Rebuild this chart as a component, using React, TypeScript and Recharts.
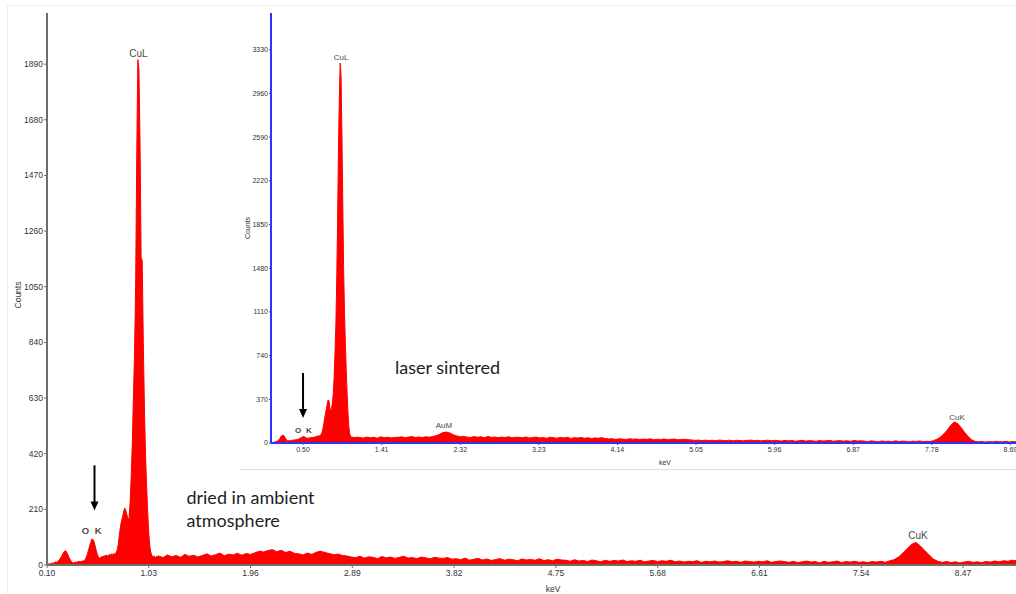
import React from 'react';
import { AreaChart, Area, XAxis, YAxis, ReferenceDot, ReferenceLine, Label } from 'recharts';

// dried in ambient atmosphere: fine bins up to 1.10 keV, coarser bins after
const mainLowStart = 0.1;
const mainLowStep = 0.01;
const mainLowCounts = [
  2, 3, 5, 4, 6, 8, 7, 9, 12, 10,
  14, 18, 24, 30, 38, 46, 52, 54, 48, 40,
  30, 22, 14, 10, 8, 9, 11, 10, 12, 14,
  13, 12, 15, 14, 17, 22, 30, 42, 58, 72,
  86, 98, 96, 88, 72, 55, 40, 30, 26, 28,
  32, 30, 35, 33, 38, 34, 36, 40, 37, 42,
  38, 44, 40, 46, 55, 75, 110, 140, 165, 180,
  200, 215, 205, 190, 172, 178, 240, 340, 470, 640,
  800, 1060, 1540, 1907, 1870, 1600, 1160, 1150, 840, 600,
  420, 300, 200, 120, 70, 45, 36, 30, 34, 28,
  32,
];
const mainHighStart = 1.12;
const mainHighStep = 0.04;
const mainHighCounts = [
  34, 28, 38, 31, 36, 29, 40, 33, 37, 30,
  36, 42, 34, 39, 45, 35, 41, 38, 44, 37, 43, 40,
  46, 52, 49, 55, 58, 50, 56, 47, 52, 44,
  42, 38, 45, 40, 48, 52, 47, 43, 39, 41, 36,
  34, 30, 28, 33, 26, 31, 29, 24, 32, 27, 30, 25, 29, 33, 26, 28, 24, 30, 27, 23, 29, 26, 25, 28, 22,
  24, 20, 26, 18, 22, 25, 19, 23, 17, 21, 24, 18, 22, 20, 16, 23, 19, 21, 18, 24, 17, 20, 16, 22, 19,
  18, 14, 20, 15, 17, 13, 19, 16, 12, 18, 14, 17, 15, 19, 13, 16, 14, 18, 12, 15, 17, 13, 16, 14, 18,
  12, 15, 11, 14, 13, 16, 10, 14, 12, 15, 11, 13, 16, 12, 14, 10, 15, 13, 11, 14, 12, 16, 10, 13, 15,
  13, 10, 14, 9, 12, 15, 11, 13, 8, 14, 10, 12, 15, 9, 13, 11, 14, 10, 12, 9, 13, 11, 14, 10, 16,
  20, 30, 45, 62, 78, 85, 72, 55, 38, 22, 14,
  10, 13, 9, 12, 8, 11, 14, 10, 12, 9, 13, 11, 15, 12, 16, 14, 18, 16,
];

// laser sintered (inset)
const insetLowStart = 0.13;
const insetLowStep = 0.01;
const insetLowCounts = [
  0, 4, 6, 5, 8, 10, 12, 15, 20, 28,
  38, 50, 60, 66, 68, 60, 48, 36, 26, 20,
  18, 21, 19, 23, 22, 25, 24, 27, 26, 30,
  28, 32, 34, 38, 42, 46, 50, 52, 55, 50,
  46, 42, 40, 43, 41, 45, 44, 48, 46, 50,
  48, 52, 55, 58, 56, 62, 60, 66, 75, 90,
  120, 160, 210, 250, 290, 330, 364, 360, 300, 270,
  290, 340, 420, 560, 760, 1000, 1380, 1870, 2480, 2920,
  3217, 3116, 2633, 2032, 1480, 1100, 850, 620, 430, 260,
  140, 80, 58, 50, 46, 52, 44, 48, 45, 50,
];
const insetHighStart = 1.16;
const insetHighStep = 0.04;
const insetHighCounts = [
  46, 42, 50, 44, 48, 41, 52, 45, 49, 43, 47,
  48, 52, 45, 50, 54, 47, 51, 46, 53, 49,
  55, 62, 74, 88, 93, 85, 70, 60, 52, 56,
  50, 47, 54, 49, 52, 46, 55, 48, 51, 45, 50, 47, 53, 44, 49,
  48, 44, 51, 42, 47, 50, 43, 46, 40, 49, 45, 41, 47, 43, 48, 39, 45, 42, 46, 40, 44, 38, 43, 41, 45,
  38, 34, 36, 31, 35, 33, 30, 36, 32, 34, 29, 33, 31, 35, 28, 32, 30, 34, 29, 31, 33, 27, 30, 32, 28,
  26, 22, 25, 20, 24, 21, 23, 19, 25, 22, 20, 24, 18, 23, 21, 19, 22, 25, 20, 23, 18, 21, 24, 19, 22,
  20, 17, 22, 18, 21, 15, 19, 23, 16, 20, 18, 14, 21, 17, 19, 22, 15, 18, 20, 16, 19, 14, 21, 17, 18,
  16, 12, 18, 14, 10, 17, 13, 15, 11, 18, 12, 16, 14, 10, 15, 13, 17, 11, 14, 12, 20, 32,
  50, 78, 110, 150, 178, 165, 130, 90, 55, 28, 14,
  10, 13, 8, 12, 9, 14, 11, 10, 13, 9, 12, 10,
];

const mainTicksX = [0.1, 1.03, 1.96, 2.89, 3.82, 4.75, 5.68, 6.61, 7.54, 8.47];
const mainTicksY = [0, 210, 420, 630, 840, 1050, 1260, 1470, 1680, 1890];
const insetTicksX = [0.5, 1.41, 2.32, 3.23, 4.14, 5.05, 5.96, 6.87, 7.78, 8.69];
const insetTicksY = [0, 370, 740, 1110, 1480, 1850, 2220, 2590, 2960, 3330];

const buildSpectrum = (segments: [number, number, number[]][]) =>
  segments.flatMap(([start, step, counts]) =>
    counts.map((c, i) => ({ kev: +(start + i * step).toFixed(3), counts: c }))
  );

const mainData = buildSpectrum([
  [mainLowStart, mainLowStep, mainLowCounts],
  [mainHighStart, mainHighStep, mainHighCounts],
]);
const insetData = buildSpectrum([
  [insetLowStart, insetLowStep, insetLowCounts],
  [insetHighStart, insetHighStep, insetHighCounts],
]);

const AXIS_FONT = '"Liberation Sans", Arial, sans-serif';
const NOTE_FONT = 'Lato, "Open Sans", sans-serif';

const peakTag = (text: string, size: number, spacing = 0, bold = false) => (p: any) => (
  <text
    x={p.cx}
    y={p.cy}
    textAnchor="middle"
    dominantBaseline="central"
    fontFamily={AXIS_FONT}
    fontSize={size}
    fontWeight={bold ? 'bold' : 'normal'}
    letterSpacing={spacing}
    fill="#4a4a4a"
  >
    {text}
  </text>
);

const noteText = (lines: string[]) => (p: any) => (
  <text x={p.cx} y={p.cy} fontFamily={NOTE_FONT} fontSize={18} fill="#222">
    {lines.map((l, i) => (
      <tspan key={i} x={p.cx} dy={i === 0 ? '0.35em' : 23}>
        {l}
      </tspan>
    ))}
  </text>
);

const downArrow = (p: any) => {
  const x = p.x1;
  const top = Math.min(p.y1, p.y2);
  const tip = Math.max(p.y1, p.y2);
  return (
    <g>
      <line x1={x} y1={top} x2={x} y2={tip - 8} stroke="#000" strokeWidth={2} />
      <polygon points={`${x - 4},${tip - 9} ${x + 4},${tip - 9} ${x},${tip}`} fill="#000" />
    </g>
  );
};

const axisTitle = (text: string, dx: number, dy: number, size: number, rotate = false) => (p: any) => {
  const vb = p.viewBox;
  const x = vb.x + dx;
  const y = vb.y + dy;
  return (
    <text
      x={x}
      y={y}
      transform={rotate ? `rotate(-90 ${x} ${y})` : undefined}
      textAnchor="middle"
      dominantBaseline="central"
      fontFamily={AXIS_FONT}
      fontSize={size}
      fill="#333"
    >
      {text}
    </text>
  );
};

const MainChart = () => (
  <AreaChart width={1016} height={594} data={mainData} margin={{ top: 13, right: 0, bottom: 0, left: 0 }}>
    <XAxis
      dataKey="kev"
      type="number"
      domain={[0.1, 8.954]}
      allowDataOverflow
      ticks={mainTicksX}
      interval={0}
      tickFormatter={(v: number) => v.toFixed(2)}
      height={29}
      axisLine={{ stroke: '#6f6f66', strokeWidth: 2 }}
      tickLine={{ stroke: '#6f6f66' }}
      tickSize={3}
      tickMargin={2}
      tick={{ fontSize: 8.5, fill: '#333', fontFamily: AXIS_FONT }}
    >
      <Label content={axisTitle('keV', 506, 24, 8.5)} />
    </XAxis>
    <YAxis
      type="number"
      domain={[0, 2083]}
      ticks={mainTicksY}
      interval={0}
      width={47}
      axisLine={{ stroke: '#6f6f66', strokeWidth: 2 }}
      tickLine={{ stroke: '#6f6f66' }}
      tickSize={3}
      tickMargin={1}
      tick={{ fontSize: 8.5, fill: '#333', fontFamily: AXIS_FONT }}
    >
      <Label content={axisTitle('Counts', 18, 282, 8.5, true)} />
    </YAxis>
    <Area
      type="linear"
      dataKey="counts"
      stroke="#ff0000"
      strokeWidth={1}
      fill="#ff0000"
      fillOpacity={1}
      dot={false}
      activeDot={false}
      isAnimationActive={false}
    />
    <ReferenceDot x={0.936} y={1932} r={0} shape={peakTag('CuL', 10)} />
    <ReferenceDot x={0.516} y={130} r={0} shape={peakTag('O K', 9.5, 1.5, true)} />
    <ReferenceDot x={8.059} y={111} r={0} shape={peakTag('CuK', 10)} />
    <ReferenceLine segment={[{ x: 0.534, y: 376 }, { x: 0.534, y: 206 }]} shape={downArrow} />
    <ReferenceDot x={1.374} y={255} r={0} shape={noteText(['dried in ambient', 'atmosphere'])} />
  </AreaChart>
);

const InsetChart = () => (
  <AreaChart width={776} height={469} data={insetData} margin={{ top: 13, right: 0, bottom: 0, left: 0 }}>
    <XAxis
      dataKey="kev"
      type="number"
      domain={[0.129, 8.755]}
      allowDataOverflow
      ticks={insetTicksX}
      interval={0}
      tickFormatter={(v: number) => v.toFixed(2)}
      height={26}
      axisLine={{ stroke: '#3030ff', strokeWidth: 2 }}
      tickLine={{ stroke: '#3030ff' }}
      tickSize={2}
      tickMargin={2}
      tick={{ fontSize: 7, fill: '#333', fontFamily: AXIS_FONT }}
    >
      <Label content={axisTitle('keV', 394, 19, 7)} />
    </XAxis>
    <YAxis
      type="number"
      domain={[0, 3641]}
      ticks={insetTicksY}
      interval={0}
      width={31}
      axisLine={{ stroke: '#3030ff', strokeWidth: 2 }}
      tickLine={{ stroke: '#3030ff' }}
      tickSize={2}
      tickMargin={1}
      tick={{ fontSize: 7, fill: '#333', fontFamily: AXIS_FONT }}
    >
      <Label content={axisTitle('Counts', 7, 215, 7, true)} />
    </YAxis>
    <Area
      type="linear"
      dataKey="counts"
      stroke="#ff0000"
      strokeWidth={1}
      fill="#ff0000"
      fillOpacity={1}
      dot={false}
      activeDot={false}
      isAnimationActive={false}
    />
    <ReferenceDot x={0.94} y={3260} r={0} shape={peakTag('CuL', 8)} />
    <ReferenceDot x={0.512} y={102} r={0} shape={peakTag('O K', 8, 1.3, true)} />
    <ReferenceDot x={2.132} y={144} r={0} shape={peakTag('AuM', 8)} />
    <ReferenceDot x={8.072} y={220} r={0} shape={peakTag('CuK', 8)} />
    <ReferenceLine segment={[{ x: 0.5, y: 593 }, { x: 0.5, y: 212 }]} shape={downArrow} />
    <ReferenceDot x={1.565} y={635} r={0} shape={noteText(['laser sintered'])} />
  </AreaChart>
);

export default function App() {
  return (
    <div
      style={{
        position: 'absolute',
        left: 0,
        top: 0,
        width: 1016,
        height: 594,
        background: '#fff',
        overflow: 'hidden',
      }}
    >
      <div
        style={{
          position: 'absolute',
          left: 7,
          top: 5,
          right: 0,
          bottom: 0,
          borderTop: '1px solid #efefef',
          borderLeft: '1px solid #efefef',
        }}
      />
      <div style={{ position: 'absolute', left: 0, top: 0 }}>
        <MainChart />
      </div>
      <div
        style={{
          position: 'absolute',
          left: 240,
          top: 6,
          width: 776,
          height: 463,
          background: '#fff',
          borderBottom: '1px solid #dcdcdc',
        }}
      />
      <div style={{ position: 'absolute', left: 240, top: 0 }}>
        <InsetChart />
      </div>
    </div>
  );
}
